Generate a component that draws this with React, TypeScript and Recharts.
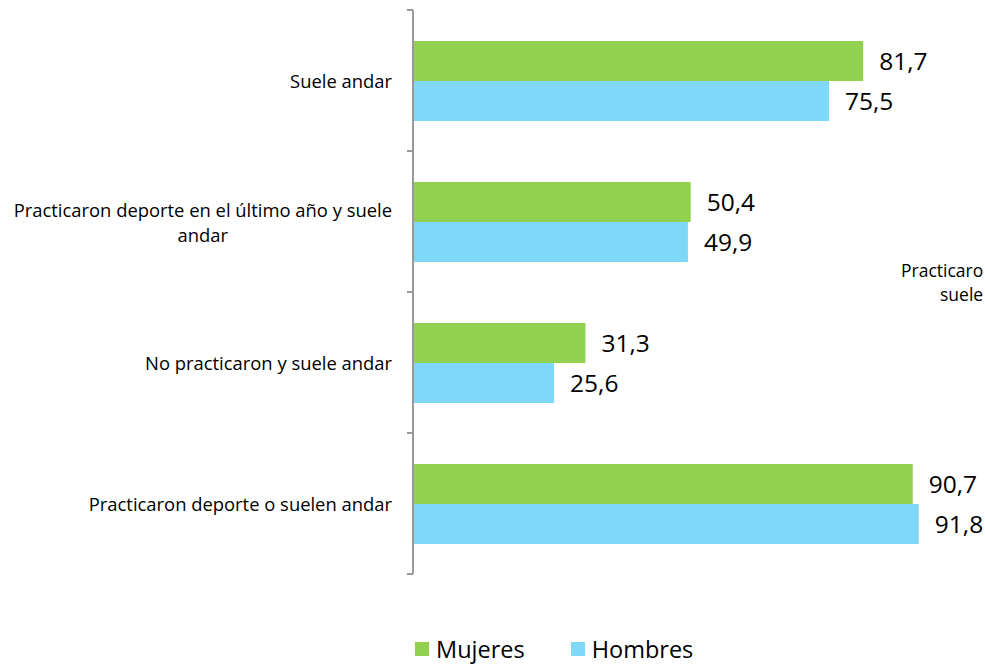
import React from 'react';
import { BarChart, Bar, XAxis, YAxis, LabelList } from 'recharts';

// Categories, top to bottom
const categories = [
  'Suele andar',
  'Practicaron deporte en el último año y suele andar',
  'No practicaron y suele andar',
  'Practicaron deporte o suelen andar',
];
// Wrapped lines for the axis labels
const categoryLines = [
  ['Suele andar'],
  ['Practicaron deporte en el último año y suele', 'andar'],
  ['No practicaron y suele andar'],
  ['Practicaron deporte o suelen andar'],
];
const mujeres = [81.7, 50.4, 31.3, 90.7];
const hombres = [75.5, 49.9, 25.6, 91.8];
const seriesNames = ['Mujeres', 'Hombres'];
const seriesColors = ['#92D050', '#80D8F8'];

const data = categories.map((c, i) => ({ name: c, Mujeres: mujeres[i], Hombres: hombres[i] }));

const WIDTH = 985;
const HEIGHT = 664;
const MARGIN = { top: 10, right: 21, bottom: 90, left: 0 };
const AXIS_W = 413;
const FONT = '"Open Sans", Lato, sans-serif';
const CAT_SIZE = 18.4;

const fmt = (v: number) => v.toFixed(1).replace('.', ',');

function measure(text: string, font: string) {
  const c = document.createElement('canvas').getContext('2d');
  if (!c) return text.length * 8;
  c.font = font;
  return c.measureText(text).width;
}

function CategoryTick(props: any) {
  const { y, payload, index } = props;
  const axisX = AXIS_W;
  const band = (HEIGHT - MARGIN.top - MARGIN.bottom) / categories.length;
  const lines = categoryLines[index] ?? [payload.value];
  const textRight = axisX - 21;
  const lineH = 25;
  const firstW = measure(lines[0], `${CAT_SIZE}px ${FONT}`);
  const startY = y - ((lines.length - 1) * lineH) / 2;
  return (
    <g>
      <line x1={axisX - 6} x2={axisX} y1={y - band / 2} y2={y - band / 2} stroke="#999" strokeWidth={2} />
      {index === categories.length - 1 && (
        <line x1={axisX - 6} x2={axisX} y1={y + band / 2} y2={y + band / 2} stroke="#999" strokeWidth={2} />
      )}
      {lines.map((l: string, i: number) => (
        <text
          key={i}
          x={lines.length > 1 ? textRight - firstW / 2 : textRight}
          y={startY + i * lineH}
          textAnchor={lines.length > 1 ? 'middle' : 'end'}
          dominantBaseline="central"
          fontSize={CAT_SIZE}
          fontFamily={FONT}
          fill="#000"
        >
          {l}
        </text>
      ))}
    </g>
  );
}

export default function App() {
  return (
    <div style={{ position: 'absolute', left: 0, top: 0, width: WIDTH, height: HEIGHT, overflow: 'hidden', background: '#fff', fontFamily: FONT }}>
      <BarChart
        width={WIDTH}
        height={HEIGHT}
        data={data}
        layout="vertical"
        margin={MARGIN}
        barGap={0}
        barSize={40}
      >
        <XAxis type="number" domain={[0, 100]} hide />
        <YAxis
          type="category"
          dataKey="name"
          width={AXIS_W}
          axisLine={{ stroke: '#999', strokeWidth: 2 }}
          tickLine={false}
          tick={<CategoryTick />}
          interval={0}
        />
        {seriesNames.map((s, i) => (
          <Bar key={s} dataKey={s} fill={seriesColors[i]} isAnimationActive={false}>
            <LabelList
              dataKey={s}
              position="right"
              offset={16}
              formatter={(v: any) => fmt(Number(v))}
              style={{ fontSize: 24.5, fontFamily: FONT, fill: '#000' }}
            />
          </Bar>
        ))}
        {/* Visible part of a label cut off at the right edge */}
        <text x={901} y={270} dominantBaseline="central" fontSize={17.5} fontFamily={FONT} fill="#000">
          Practicaro
        </text>
        <text x={940} y={294} dominantBaseline="central" fontSize={17.5} fontFamily={FONT} fill="#000">
          suele
        </text>
      </BarChart>

      {/* Legend */}
      <div style={{ position: 'absolute', left: 415, top: 633, display: 'flex', alignItems: 'center', fontSize: 23.5, fontFamily: FONT, color: '#000' }}>
        {seriesNames.map((s, i) => (
          <div key={s} style={{ display: 'flex', alignItems: 'center', marginRight: i === 0 ? 46 : 0 }}>
            <span style={{ display: 'inline-block', width: 14, height: 14, background: seriesColors[i], marginRight: 7 }} />
            <span>{s}</span>
          </div>
        ))}
      </div>
    </div>
  );
}
